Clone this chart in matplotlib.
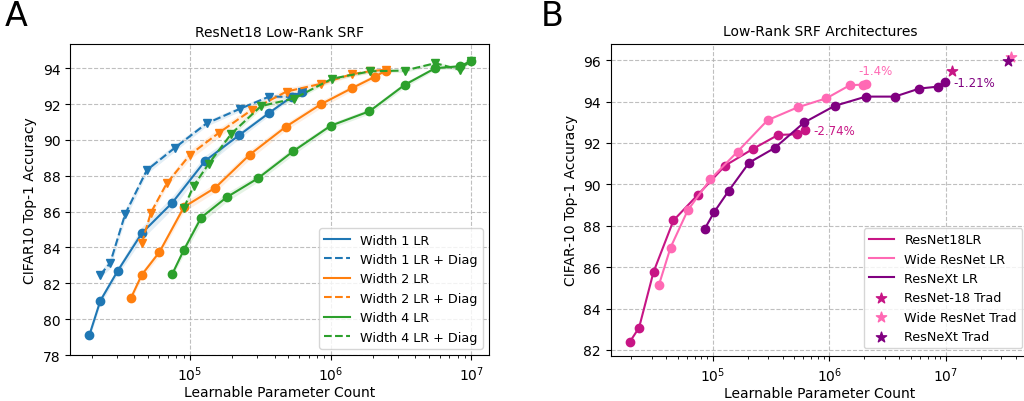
import matplotlib
matplotlib.use("Agg")
from matplotlib import pyplot as plt

# ---- panel A: ResNet18 low-rank SRF ----
w1_x = [19200, 23000, 30600, 45400, 74800, 128000, 223000, 364000, 531000, 628000]
w1_y = [79.1, 81.03, 82.7, 84.8, 86.5, 88.83, 90.26, 91.5, 92.42, 92.67]
w1d_x = [23000, 27000, 34500, 49200, 78200, 131000, 227000, 366000, 531000, 628000]
w1d_y = [82.48, 83.13, 85.85, 88.31, 89.57, 90.92, 91.74, 92.42, 92.4, 92.67]

w2_x = [37900, 45400, 60500, 90600, 151000, 266000, 481000, 857000, 1420000, 2070000, 2470000]
w2_y = [81.17, 82.48, 83.74, 86.26, 87.33, 89.18, 90.74, 92.0, 92.89, 93.53, 93.87]
w2d_x = [45400, 52600, 68200, 100000, 160000, 275000, 486000, 853000, 1420000, 1900000, 2470000]
w2d_y = [84.24, 85.94, 87.57, 89.18, 90.39, 91.68, 92.7, 93.13, 93.67, 93.83, 93.92]

w4_x = [74800, 90200, 120000, 182000, 303000, 542000, 1000000, 1890000, 3360000, 5540000, 8300000, 9900000]
w4_y = [82.53, 83.85, 85.67, 86.8, 87.85, 89.37, 90.79, 91.6, 93.07, 94.0, 94.11, 94.39]
w4d_x = [90600, 106000, 136000, 197000, 320000, 551000, 1020000, 1920000, 3370000, 5550000, 8300000, 9900000]
w4d_y = [86.22, 87.44, 88.68, 90.35, 91.89, 92.31, 93.41, 93.83, 93.87, 94.28, 93.92, 94.42]

# rough spread of the runs (shaded bands)
w1_sd = [0.2, 0.2, 0.2, 0.35, 0.35, 0.3, 0.2, 0.15, 0.1, 0.1]
w1d_sd = [0.15, 0.3, 0.3, 0.2, 0.2, 0.15, 0.15, 0.1, 0.1, 0.1]
w2_sd = [0.15, 0.2, 0.2, 0.25, 0.25, 0.25, 0.2, 0.2, 0.15, 0.15, 0.1]
w2d_sd = [0.15, 0.2, 0.2, 0.25, 0.25, 0.2, 0.2, 0.15, 0.1, 0.1, 0.1]
w4_sd = [0.15, 0.25, 0.3, 0.25, 0.2, 0.2, 0.15, 0.15, 0.15, 0.1, 0.1, 0.1]
w4d_sd = [0.15, 0.2, 0.2, 0.2, 0.15, 0.15, 0.1, 0.1, 0.1, 0.1, 0.1, 0.1]

# ---- panel B: architectures ----
r18_x = [19400, 23300, 31000, 46000, 74800, 128000, 222000, 364000, 530000, 617000]
r18_y = [82.39, 83.08, 85.77, 88.26, 89.51, 90.91, 91.72, 92.39, 92.42, 92.62]
wrn_x = [34400, 43400, 61000, 95500, 163000, 295000, 534000, 946000, 1500000, 1950000, 2050000]
wrn_y = [85.12, 86.95, 88.75, 90.25, 91.58, 93.1, 93.72, 94.16, 94.79, 94.82, 94.84]
rnx_x = [85400, 103000, 137000, 205000, 340000, 608000, 1110000, 2060000, 3650000, 5940000, 8500000, 9930000]
rnx_y = [87.86, 88.67, 89.69, 91.05, 91.76, 92.99, 93.79, 94.24, 94.24, 94.63, 94.72, 94.93]

trad_names = ["ResNet-18 Trad", "Wide ResNet Trad", "ResNeXt Trad"]
trad_x = [11200000, 36100000, 33900000]
trad_y = [95.49, 96.13, 95.94]
gaps = ["-2.74%", "-1.4%", "-1.21%"]

c_r18 = "#c71585"
c_wrn = "#ff69b4"
c_rnx = "#800080"

plt.rcParams["font.size"] = 10
fig = plt.figure(figsize=(10.24, 4.02), dpi=100)
axA = fig.add_axes([0.0684, 0.1144, 0.4092, 0.7736])
axB = fig.add_axes([0.5964, 0.1120, 0.4087, 0.7765])


def band(ax, x, y, sd, color):
    lo = [a - b for a, b in zip(y, sd)]
    hi = [a + b for a, b in zip(y, sd)]
    ax.fill_between(x, lo, hi, color=color, alpha=0.12, linewidth=0)


series = [
    (w1_x, w1_y, w1_sd, "C0", "-", "o", "Width 1 LR"),
    (w1d_x, w1d_y, w1d_sd, "C0", "--", "v", "Width 1 LR + Diag"),
    (w2_x, w2_y, w2_sd, "C1", "-", "o", "Width 2 LR"),
    (w2d_x, w2d_y, w2d_sd, "C1", "--", "v", "Width 2 LR + Diag"),
    (w4_x, w4_y, w4_sd, "C2", "-", "o", "Width 4 LR"),
    (w4d_x, w4d_y, w4d_sd, "C2", "--", "v", "Width 4 LR + Diag"),
]
handles = []
for x, y, sd, c, ls, m, lab in series:
    band(axA, x, y, sd, c)
    axA.plot(x, y, color=c, linestyle=ls, marker=m, markersize=6)
    h, = axA.plot([], [], color=c, linestyle=ls, label=lab)
    handles.append(h)

axA.set_xscale("log")
axA.set_xlim(14000, 13400000)
axA.set_ylim(78, 95.35)
axA.set_yticks([78, 80, 82, 84, 86, 88, 90, 92, 94])
axA.grid(True, linestyle="--", color="#b0b0b0", alpha=0.8)
axA.set_title("ResNet18 Low-Rank SRF", fontsize=10)
axA.set_xlabel("Learnable Parameter Count", labelpad=1)
axA.set_ylabel("CIFAR10 Top-1 Accuracy")
axA.legend(handles=handles, loc="lower right", fontsize=9.2)

# panel B
hB = []
for x, y, c, lab in [(r18_x, r18_y, c_r18, "ResNet18LR"),
                     (wrn_x, wrn_y, c_wrn, "Wide ResNet LR"),
                     (rnx_x, rnx_y, c_rnx, "ResNeXt LR")]:
    axB.plot(x, y, color=c, marker="o", markersize=6)
    h, = axB.plot([], [], color=c, label=lab)
    hB.append(h)
for n, x, y, c in zip(trad_names, trad_x, trad_y, [c_r18, c_wrn, c_rnx]):
    hB.append(axB.scatter([x], [y], color=c, marker="*", s=60, label=n, zorder=3))

axB.annotate(gaps[0], (r18_x[-1], r18_y[-1]), xytext=(6, 0), textcoords="offset points",
             color=c_r18, va="center", ha="left", fontsize=8.5)
axB.annotate(gaps[1], (wrn_x[-1], wrn_y[-1]), xytext=(-5, 10), textcoords="offset points",
             color=c_wrn, va="center", ha="left", fontsize=8.5)
axB.annotate(gaps[2], (rnx_x[-1], rnx_y[-1]), xytext=(6, 0), textcoords="offset points",
             color=c_rnx, va="center", ha="left", fontsize=8.5)

axB.set_xscale("log")
axB.set_xlim(13300, 52000000)
axB.set_ylim(81.71, 96.79)
axB.grid(True, linestyle="--", color="#b0b0b0", alpha=0.8)
axB.set_title("Low-Rank SRF Architectures", fontsize=10)
axB.set_xlabel("Learnable Parameter Count", labelpad=1)
axB.set_ylabel("CIFAR-10 Top-1 Accuracy")
axB.legend(handles=hB, loc="lower right", fontsize=9.2, borderaxespad=0,
           bbox_to_anchor=(0.983, 0.025))

fig.text(0.005, 0.935, "A", fontsize=24)
fig.text(0.528, 0.935, "B", fontsize=24)

fig.savefig("out.png", dpi=100)
